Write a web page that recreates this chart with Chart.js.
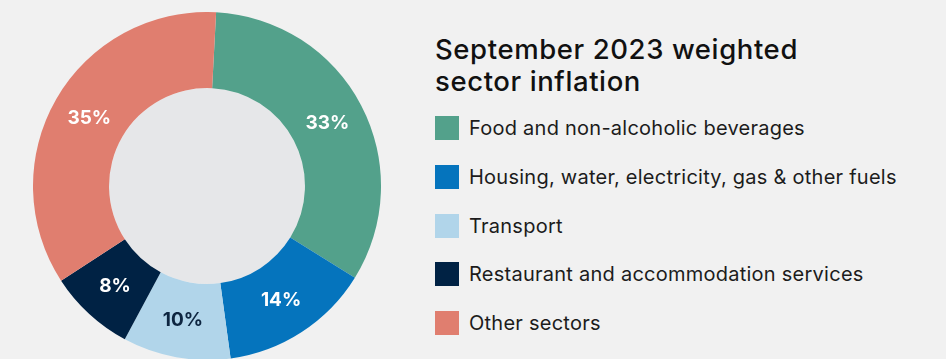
<!DOCTYPE html>
<html>
<head>
<meta charset="utf-8">
<script src="https://cdn.jsdelivr.net/npm/chart.js@4.4.0/dist/chart.umd.min.js"></script>
<style>
  html, body { margin: 0; padding: 0; background: #f1f1f1; overflow: hidden; }
  body { width: 946px; height: 359px; position: relative; font-family: Inter, sans-serif; }
  #wrap { position: absolute; left: 33px; top: 12px; width: 348px; height: 348px; }
  #side { position: absolute; left: 435px; top: 33px; }
  #side h2 { margin: 0; font-size: 27.5px; font-weight: 500; line-height: 32px; letter-spacing: 0.6px; color: #111; }
  #legend { list-style: none; margin: 7px 0 0 0; padding: 0; }
  #legend li { display: flex; align-items: center; height: 48.7px; font-size: 20px; letter-spacing: 0.25px; color: #1c1c1c; }
  #legend span.box { width: 24px; height: 24px; margin-right: 10px; flex: none; }
</style>
</head>
<body>
<div id="wrap"><canvas id="sectorChart"></canvas></div>
<div id="side">
  <h2>September 2023 weighted<br>sector inflation</h2>
  <ul id="legend"></ul>
</div>
<script>
// Sector shares of the September 2023 weighted inflation
const sectors = [
  'Food and non-alcoholic beverages',
  'Housing, water, electricity, gas & other fuels',
  'Transport',
  'Restaurant and accommodation services',
  'Other sectors'
];
const shares = [33, 14, 10, 8, 35];
const sectorColors = ['#53a18b', '#0574bd', '#b1d5ea', '#002244', '#e07e6f'];
const labelColors = ['#ffffff', '#ffffff', '#0d2540', '#ffffff', '#ffffff'];

// legend beside the chart
const legendEl = document.getElementById('legend');
legendEl.innerHTML = sectors.map((s, i) =>
  `<li><span class="box" style="background:${sectorColors[i]}"></span>${s}</li>`).join('');

// grey disc in the hole of the doughnut
const holeFill = {
  id: 'holeFill',
  beforeDatasetsDraw(chart) {
    const arc = chart.getDatasetMeta(0).data[0];
    if (!arc) return;
    const ctx = chart.ctx;
    ctx.save();
    ctx.fillStyle = '#e6e7e9';
    ctx.beginPath();
    ctx.arc(arc.x, arc.y, arc.innerRadius, 0, Math.PI * 2);
    ctx.fill();
    ctx.restore();
  }
};

// percentage written in the middle of each slice
const sliceLabels = {
  id: 'sliceLabels',
  afterDatasetsDraw(chart) {
    const ctx = chart.ctx;
    ctx.save();
    ctx.font = 'bold 19px Inter, sans-serif';
    ctx.textAlign = 'center';
    ctx.textBaseline = 'middle';
    chart.getDatasetMeta(0).data.forEach((arc, i) => {
      const p = arc.tooltipPosition();
      ctx.fillStyle = labelColors[i];
      ctx.fillText(shares[i] + '%', p.x, p.y);
    });
    ctx.restore();
  }
};

new Chart(document.getElementById('sectorChart'), {
  type: 'doughnut',
  data: {
    labels: sectors,
    datasets: [{
      data: shares,
      backgroundColor: sectorColors,
      borderWidth: 0
    }]
  },
  options: {
    responsive: true,
    maintainAspectRatio: false,
    animation: false,
    cutout: '56.3%',
    rotation: 3,
    layout: { padding: 0 },
    plugins: {
      legend: { display: false },
      tooltip: { enabled: false }
    }
  },
  plugins: [holeFill, sliceLabels]
});
</script>
</body>
</html>
